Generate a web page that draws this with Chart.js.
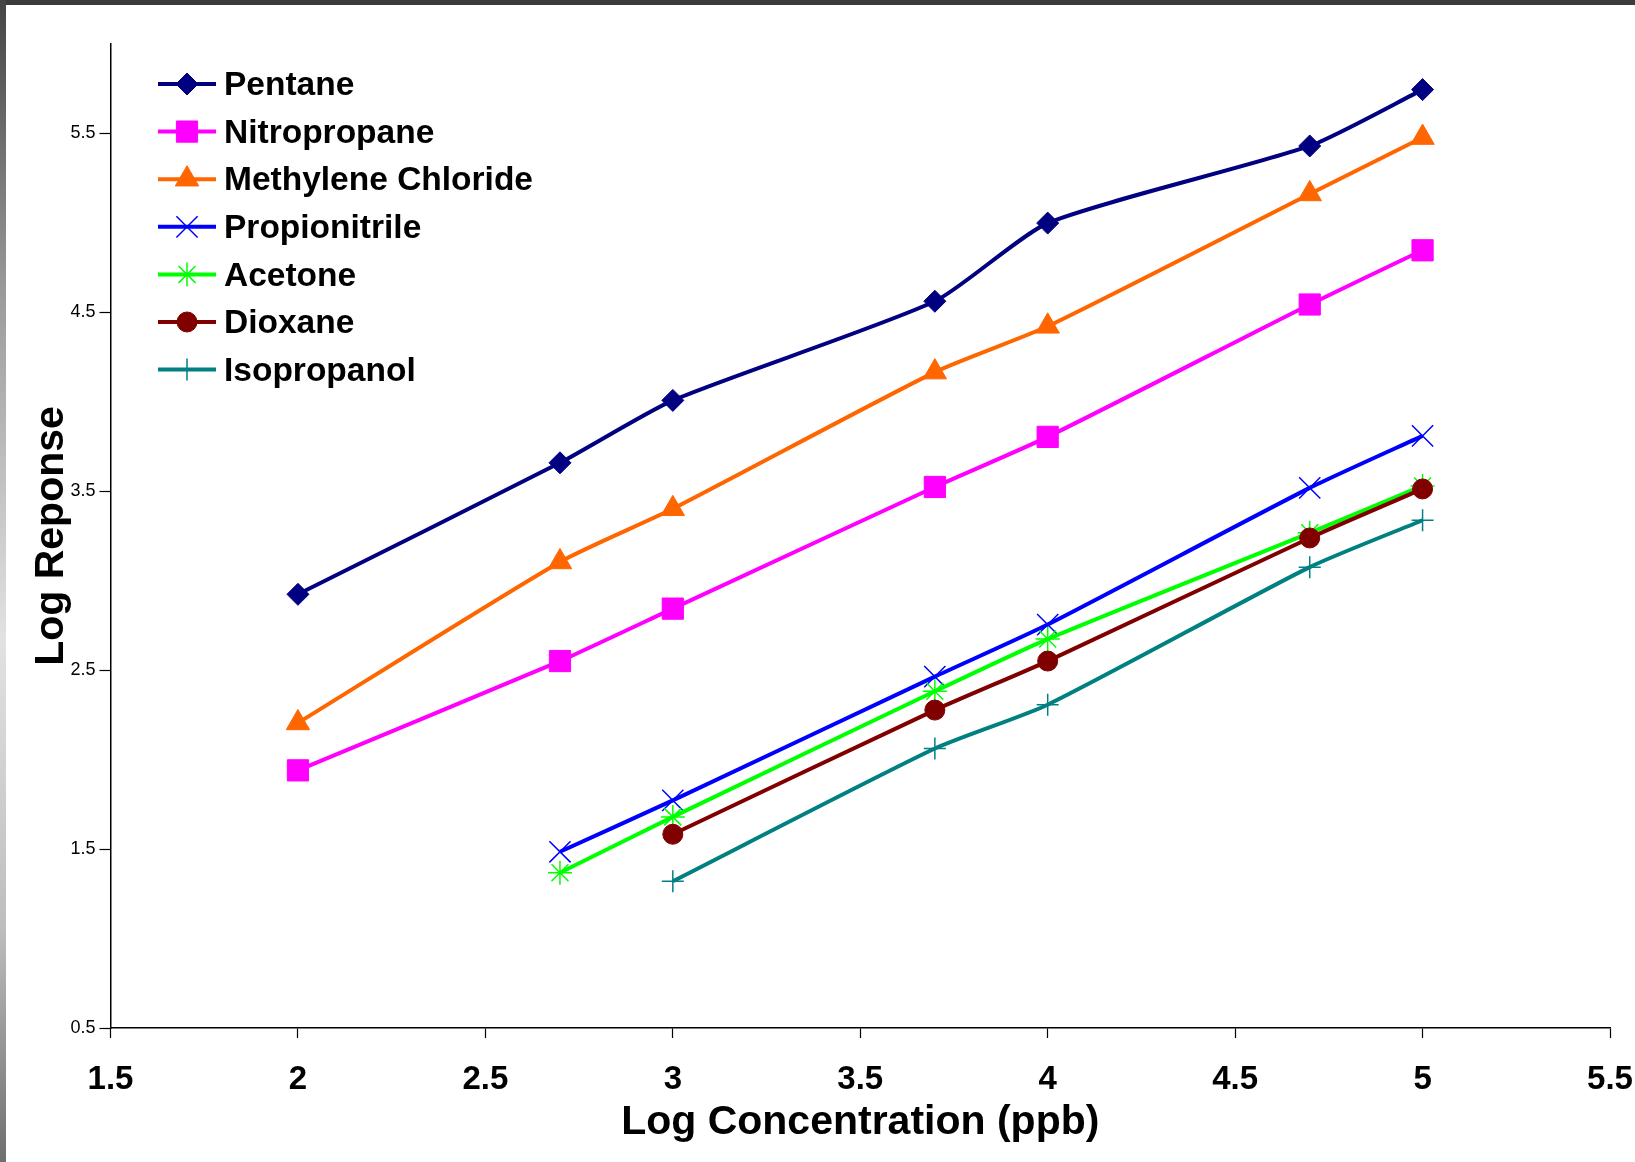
<!DOCTYPE html>
<html><head><meta charset="utf-8">
<script src="https://cdn.jsdelivr.net/npm/chart.js@4.4.1/dist/chart.umd.min.js"></script>
<style>
html,body{margin:0;padding:0;background:#fff;}
#wrap{position:relative;width:1635px;height:1162px;overflow:hidden;background:#fff;}
canvas{position:absolute;left:0;top:0;}
#topbar{position:absolute;left:0;top:0;width:1635px;height:5px;background:#3b3b3b;}
#leftbar{position:absolute;left:0;top:0;width:6px;height:1162px;background:linear-gradient(#444,#9a9a9a 25%,#e2e2e2 55%,#bdbdbd 80%,#6e6e6e);}
</style></head>
<body><div id="wrap"><canvas id="c" width="1635" height="1162"></canvas><div id="topbar"></div><div id="leftbar"></div></div>
<script>
// ---- data ----
const logConcentration = [2, 2.699, 3, 3.699, 4, 4.699, 5];
const seriesNames = ['Pentane', 'Nitropropane', 'Methylene Chloride', 'Propionitrile', 'Acetone', 'Dioxane', 'Isopropanol'];
const pentane           = [2.924, 3.659, 4.008, 4.562, 4.999, 5.430, 5.745];
const nitropropane      = [1.940, 2.551, 2.844, 3.524, 3.804, 4.544, 4.847];
const methyleneChloride = [2.205, 3.105, 3.402, 4.166, 4.422, 5.162, 5.477];
const propionitrile     = [null, 1.485, 1.772, 2.464, 2.755, 3.519, 3.810];
const acetone           = [null, 1.368, 1.680, 2.382, 2.674, 3.268, 3.530];
const dioxane           = [null, null, 1.583, 2.277, 2.551, 3.239, 3.513];
const isopropanol       = [null, null, 1.320, 2.062, 2.307, 3.076, 3.338];
const xTickValues = [1.5, 2, 2.5, 3, 3.5, 4, 4.5, 5, 5.5];
const yTickValues = [0.5, 1.5, 2.5, 3.5, 4.5, 5.5];

const seriesValues = [pentane, nitropropane, methyleneChloride, propionitrile, acetone, dioxane, isopropanol];
const colors = ['#000080', '#FF00FF', '#FF6600', '#0000FF', '#00FF00', '#800000', '#008080'];
const styles = ['rectRot', 'rect', 'triangle', 'crossRot', 'star', 'circle', 'cross'];
const radii = [11, 15, 13.5, 15, 12, 10, 11];
const markerBorder = [1, 1, 1, 1.5, 1.5, 1, 1.5];

const FONT = '"Liberation Sans", Arial, Helvetica, sans-serif';

const datasets = seriesNames.map((name, i) => ({
  label: name,
  data: logConcentration.map((x, k) => ({x: x, y: seriesValues[i][k]})).filter(p => p.y !== null),
  borderColor: colors[i],
  backgroundColor: colors[i],
  borderWidth: 4,
  pointStyle: styles[i],
  pointRadius: radii[i],
  pointHoverRadius: radii[i],
  pointBackgroundColor: colors[i],
  pointBorderColor: colors[i],
  pointBorderWidth: markerBorder[i],
  tension: 0.2,
  fill: false,
  order: seriesNames.length - i
}));

function drawMarker(ctx, style, r, x, y) {
  if (Chart.helpers && Chart.helpers.drawPoint) {
    Chart.helpers.drawPoint(ctx, {pointStyle: style, radius: r, rotation: 0, borderWidth: ctx.lineWidth}, x, y);
  }
}

const inlineLegend = {
  id: 'inlineLegend',
  afterDatasetsDraw(chart) {
    const ctx = chart.ctx;
    const x0 = 158, x1 = 216, tx = 224, y0 = 84, dy = 47.6;
    chart.data.datasets.forEach((ds, i) => {
      const y = y0 + i * dy;
      ctx.save();
      ctx.strokeStyle = ds.borderColor;
      ctx.lineWidth = ds.borderWidth;
      ctx.beginPath(); ctx.moveTo(x0, y); ctx.lineTo(x1, y); ctx.stroke();
      ctx.fillStyle = ds.pointBackgroundColor;
      ctx.strokeStyle = ds.pointBorderColor;
      ctx.lineWidth = ds.pointBorderWidth;
      drawMarker(ctx, ds.pointStyle, ds.pointRadius, (x0 + x1) / 2, y);
      ctx.fillStyle = '#000';
      ctx.font = 'bold 33.5px ' + FONT;
      ctx.textBaseline = 'middle';
      ctx.textAlign = 'left';
      ctx.fillText(ds.label, tx, y + 2);
      ctx.restore();
    });
  }
};

new Chart(document.getElementById('c'), {
  type: 'line',
  data: {datasets: datasets},
  plugins: [inlineLegend],
  options: {
    responsive: false,
    animation: false,
    devicePixelRatio: 1,
    layout: {padding: {top: 44, right: 25, left: 0, bottom: 0}},
    plugins: {legend: {display: false}, tooltip: {enabled: false}},
    scales: {
      x: {
        type: 'linear', min: 1.5, max: 5.5,
        afterBuildTicks: s => { s.ticks = xTickValues.map(v => ({value: v})); },
        afterFit: s => { s.height = 134; s.paddingLeft = 0; s.paddingRight = 0; },
        ticks: {color: '#000', font: {family: FONT, size: 33, weight: 'bold'}, padding: 22, maxRotation: 0, autoSkip: false,
                callback: v => String(v)},
        grid: {drawOnChartArea: false, drawTicks: true, tickLength: 10, color: '#000', tickWidth: 1.2},
        border: {display: true, color: '#000', width: 1.5},
        title: {display: true, text: 'Log Concentration (ppb)', color: '#000',
                font: {family: FONT, size: 41, weight: 'bold'}, padding: {top: 0, bottom: 15}}
      },
      y: {
        type: 'linear', min: 0.5, max: 6.0,
        afterBuildTicks: s => { s.ticks = yTickValues.map(v => ({value: v})); },
        afterFit: s => { s.width = 110.5; s.paddingTop = 0; s.paddingBottom = 0; },
        ticks: {color: '#000', font: {family: FONT, size: 18}, padding: 4, autoSkip: false,
                callback: v => v.toFixed(1)},
        grid: {drawOnChartArea: false, drawTicks: true, tickLength: 11, color: '#000', tickWidth: 1.2},
        border: {display: true, color: '#000', width: 1.5},
        title: {display: true, text: 'Log Reponse', color: '#000',
                font: {family: FONT, size: 41, weight: 'bold'}, padding: {top: 27, bottom: 0}}
      }
    }
  }
});
</script>
</body></html>
